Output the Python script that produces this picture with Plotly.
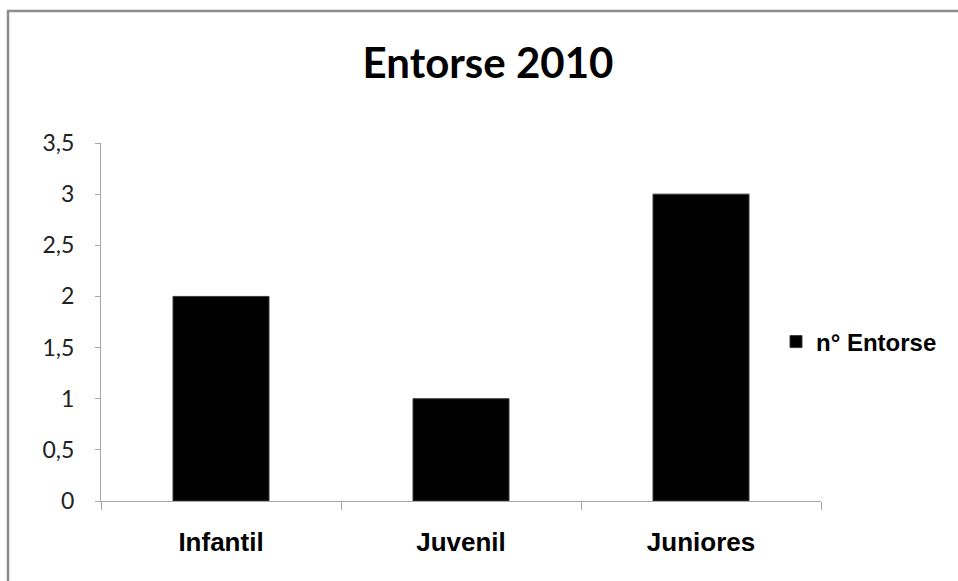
import plotly.graph_objects as go

categories = ["Infantil", "Juvenil", "Juniores"]
entorse_counts = [2, 1, 3]
series_name = "n° Entorse"
chart_title = "Entorse 2010"

W, H = 958, 581
L, R, T, B = 101, 137, 143, 80
plot_w = W - L - R
plot_h = H - T - B


def px_x(px):
    return (px - L) / plot_w


def px_y(py):
    return (H - B - py) / plot_h


fig = go.Figure()
fig.add_trace(go.Bar(
    x=categories,
    y=entorse_counts,
    name=series_name,
    width=0.4,
    marker=dict(color="#000000", line=dict(color="#3a3a3a", width=1)),
    showlegend=True,
))

axis_gray = "#a6a6a6"

fig.update_layout(
    width=W,
    height=H,
    margin=dict(l=L, r=R, t=T, b=B, pad=0),
    paper_bgcolor="white",
    plot_bgcolor="white",
    separators=",.",
    title=dict(
        text="<b>" + chart_title + "</b>",
        x=px_x(488), xref="paper", xanchor="center",
        y=1 - 63 / H, yref="container", yanchor="middle",
        font=dict(family="Lato", size=42, color="#000000"),
    ),
    xaxis=dict(
        showgrid=False,
        showline=True, linecolor=axis_gray, linewidth=1,
        ticks="outside", ticklen=8, tickcolor=axis_gray, tickwidth=1,
        tickson="boundaries",
        ticklabelstandoff=18,
        tickfont=dict(family="Liberation Sans", size=26, color="#000000", weight="bold"),
    ),
    yaxis=dict(
        range=[0, 3.5], dtick=0.5, tick0=0,
        showgrid=False, zeroline=False,
        showline=True, linecolor=axis_gray, linewidth=1,
        ticks="outside", ticklen=5, tickcolor=axis_gray, tickwidth=1,
        ticklabelstandoff=16,
        tickfont=dict(family="Lato", size=23, color="#222222"),
    ),
    legend=dict(
        x=px_x(776), y=px_y(342), xanchor="left", yanchor="middle",
        xref="paper", yref="paper",
        font=dict(family="Liberation Sans", size=24, color="#000000", weight="bold"),
        itemwidth=30,
        bgcolor="rgba(0,0,0,0)",
    ),
)

# chart frame (left and top edges)
frame_color = "#8c8c8c"
fig.add_shape(type="line", xref="paper", yref="paper",
              x0=px_x(8), x1=px_x(8), y0=px_y(11), y1=px_y(H + 5),
              line=dict(color=frame_color, width=2.5))
fig.add_shape(type="line", xref="paper", yref="paper",
              x0=px_x(7), x1=px_x(W + 5), y0=px_y(11), y1=px_y(11),
              line=dict(color=frame_color, width=2.5))

fig.write_html("out.html")
